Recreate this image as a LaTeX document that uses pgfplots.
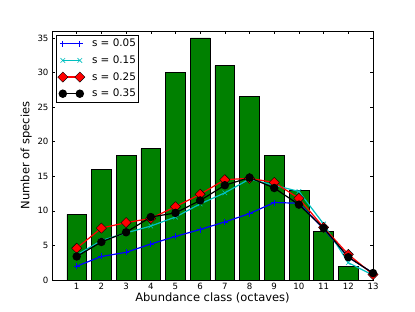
\documentclass[border=0pt]{standalone}
\usepackage{fontspec}
\setmainfont{DejaVu Sans}
\usepackage{pgfplots}
\pgfplotsset{compat=1.18}
\definecolor{mplgreen}{rgb}{0,0.5,0}
\definecolor{mplcyan}{rgb}{0,0.75,0.75}
\begin{document}
\begin{tikzpicture}
\useasboundingbox (0,0) rectangle (415pt,312pt);
\begin{axis}[
  at={(52pt,32pt)}, anchor=south west,
  width=321pt, height=249pt, scale only axis,
  xmin=0, xmax=13, ymin=0, ymax=36,
  xtick={1,...,13}, ytick={0,5,...,35},
  tick pos=both, tick align=inside,
  major tick length=3pt,
  axis line style={line width=0.7pt},
  every tick/.style={black, line width=0.5pt},
  /pgf/number format/assume math mode=true,
  tick label style={font=\fontsize{8.6}{10}\selectfont},
  label style={font=\fontsize{11.5}{13.5}\selectfont},
  xlabel={Abundance class (octaves)},
  ylabel={Number of species},
  xlabel style={yshift=4pt},
  ylabel style={yshift=-1pt},
  legend style={draw=black, line width=0.6pt, font=\fontsize{10.4}{12}\selectfont,
    inner xsep=0.5pt, inner ysep=2pt, row sep=3pt, column sep=2pt,
    nodes={inner sep=2.2pt},
    at={(0.0125,0.985)}, anchor=north west},
  legend cell align=left,
  legend image code/.code={\path[use as bounding box, draw=none, fill=none] (-6pt,-5pt) rectangle (25pt,5pt); \draw[#1] plot coordinates {(0pt,0pt) (17pt,0pt)};},
]
\addplot[ybar, bar width=0.8, fill=mplgreen, draw=black, line width=0.5pt, forget plot]
  coordinates {(1,9.5) (2,16) (3,18) (4,19) (5,30) (6,35) (7,31) (8,26.5) (9,18) (10,13) (11,7) (12,2)};
\addplot[blue, line width=1.2pt, mark=+, mark size=3pt, mark options={line width=0.7pt}]
  coordinates {(1,2.0) (2,3.4) (3,4.0) (4,5.2) (5,6.3) (6,7.3) (7,8.4) (8,9.6) (9,11.2) (10,11.1) (11,7.4) (12,3.3) (13,1.0)};
\addlegendentry{s = 0.05}
\addplot[mplcyan, line width=1.2pt, mark=x, mark size=3.2pt, mark options={line width=0.6pt}]
  coordinates {(1,3.6) (2,5.7) (3,6.8) (4,7.8) (5,9.1) (6,11.0) (7,12.6) (8,14.6) (9,13.7) (10,12.8) (11,8.1) (12,2.5) (13,0.7)};
\addlegendentry{s = 0.15}
\addplot[red, line width=1.2pt, mark=square*, mark size=3.6pt, mark options={rotate=45, fill=red, draw=black, line width=0.4pt}]
  coordinates {(1,4.6) (2,7.5) (3,8.3) (4,8.9) (5,10.6) (6,12.4) (7,14.5) (8,14.7) (9,14.1) (10,11.8) (11,7.6) (12,3.7) (13,0.8)};
\addlegendentry{s = 0.25}
\addplot[black, line width=1.2pt, mark=*, mark size=3.6pt]
  coordinates {(1,3.4) (2,5.5) (3,6.9) (4,9.1) (5,9.7) (6,11.5) (7,13.7) (8,14.8) (9,13.3) (10,10.9) (11,7.5) (12,3.3) (13,1.0)};
\addlegendentry{s = 0.35}
\end{axis}
\end{tikzpicture}
\end{document}
